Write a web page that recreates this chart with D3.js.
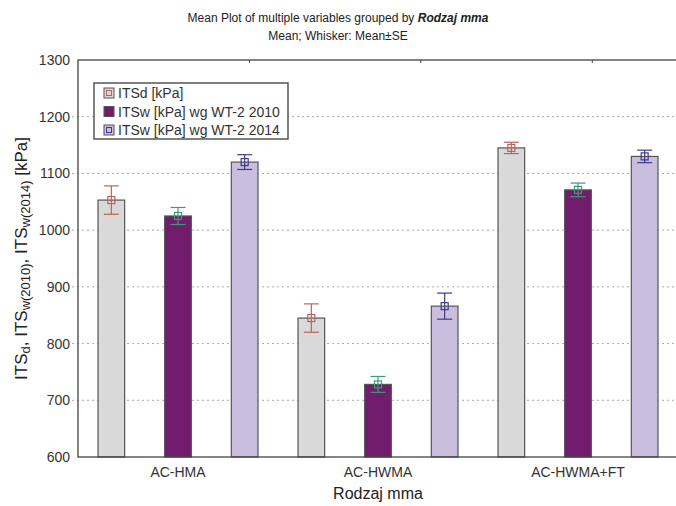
<!DOCTYPE html>
<html>
<head>
<meta charset="utf-8">
<script src="https://cdn.jsdelivr.net/npm/d3@7"></script>
<style>
  body { margin: 0; background: #fff; }
  svg { font-family: "Liberation Sans", Arial, sans-serif; }
</style>
</head>
<body>
<div id="chart"></div>
<script>
// values
const categories = ['AC-HMA', 'AC-HWMA', 'AC-HWMA+FT'];
const seriesNames = ['ITSd [kPa]', 'ITSw [kPa] wg WT-2 2010', 'ITSw [kPa] wg WT-2 2014'];
const itsd = [1053, 845, 1145];
const itsd_se = [25, 25, 10];
const itsw2010 = [1025, 728, 1071];
const itsw2010_se = [15, 14, 12];
const itsw2014 = [1120, 866, 1130];
const itsw2014_se = [13, 23, 11];
const yTicks = [600, 700, 800, 900, 1000, 1100, 1200, 1300];

const fills = ['#d9d9d9', '#721c6e', '#c9bedd'];
const whiskers = ['#c0605a', '#3f9a7a', '#3c3c8a'];

const W = 676, H = 506;
const margin = { top: 60, right: -2, bottom: 49, left: 78 };

const svg = d3.select('#chart').append('svg')
  .attr('width', W).attr('height', H);

const x0 = d3.scaleBand()
  .domain(categories)
  .range([margin.left, W - margin.right]);

const x1 = d3.scaleBand()
  .domain(d3.range(seriesNames.length))
  .range([0, x0.bandwidth()])
  .paddingInner(0.6)
  .paddingOuter(0.3);

const y = d3.scaleLinear()
  .domain([600, 1300])
  .range([H - margin.bottom, margin.top]);

const means = [itsd, itsw2010, itsw2014];
const ses = [itsd_se, itsw2010_se, itsw2014_se];

const data = [];
categories.forEach((c, i) => {
  seriesNames.forEach((s, j) => {
    data.push({ cat: c, s: j, mean: means[j][i], se: ses[j][i] });
  });
});

// grid
svg.append('g')
  .selectAll('line')
  .data(yTicks.filter(t => t > 600 && t < 1300))
  .enter().append('line')
  .attr('x1', margin.left - 6)
  .attr('x2', W - margin.right)
  .attr('y1', d => y(d)).attr('y2', d => y(d))
  .style('stroke', '#a8a8a8')
  .style('stroke-width', 1)
  .style('stroke-dasharray', '2,3');

// y axis
const yAxis = svg.append('g')
  .attr('transform', `translate(${margin.left},0)`)
  .call(d3.axisLeft(y).tickValues(yTicks).tickFormat(d3.format('d')).tickSize(0).tickPadding(8));
yAxis.select('.domain').remove();
yAxis.selectAll('text')
  .style('font-size', '14px')
  .style('fill', '#333');

// bars
svg.append('g')
  .selectAll('rect')
  .data(data)
  .enter().append('rect')
  .attr('x', d => x0(d.cat) + x1(d.s))
  .attr('width', x1.bandwidth())
  .attr('y', d => y(d.mean))
  .attr('height', d => y(600) - y(d.mean))
  .style('fill', d => fills[d.s])
  .style('stroke', '#555')
  .style('stroke-width', 1.2);

// whiskers
const wg = svg.append('g');
const cap = 7.5;
data.forEach(d => {
  const cx = x0(d.cat) + x1(d.s) + x1.bandwidth() / 2;
  const col = whiskers[d.s];
  const g = wg.append('g').style('stroke', col).style('stroke-width', 1.2).style('fill', 'none');
  g.append('line').attr('x1', cx).attr('x2', cx)
    .attr('y1', y(d.mean + d.se)).attr('y2', y(d.mean - d.se));
  g.append('line').attr('x1', cx - cap).attr('x2', cx + cap)
    .attr('y1', y(d.mean + d.se)).attr('y2', y(d.mean + d.se));
  g.append('line').attr('x1', cx - cap).attr('x2', cx + cap)
    .attr('y1', y(d.mean - d.se)).attr('y2', y(d.mean - d.se));
  g.append('rect').attr('x', cx - 3.5).attr('y', y(d.mean) - 3.5)
    .attr('width', 7).attr('height', 7);
});

// frame
svg.append('rect')
  .attr('x', margin.left).attr('y', margin.top)
  .attr('width', W - margin.right - margin.left)
  .attr('height', y(600) - margin.top)
  .style('fill', 'none')
  .style('stroke', '#444')
  .style('stroke-width', 1.3);

// small top ticks
const xt = d3.scaleLinear().domain([0, 3.5]).range([margin.left, W - margin.right]);
svg.append('g').selectAll('line')
  .data([1, 2, 3]).enter().append('line')
  .attr('x1', d => xt(d)).attr('x2', d => xt(d))
  .attr('y1', margin.top).attr('y2', margin.top + 3)
  .style('stroke', '#444');

// x axis labels
svg.append('g').selectAll('text')
  .data(categories).enter().append('text')
  .attr('x', d => x0(d) + x0.bandwidth() / 2)
  .attr('y', y(600) + 20)
  .attr('text-anchor', 'middle')
  .style('font-size', '14px')
  .style('fill', '#333')
  .text(d => d);

svg.append('text')
  .attr('x', x0.range()[0] + 300)
  .attr('y', 499)
  .attr('text-anchor', 'middle')
  .style('font-size', '16px')
  .style('fill', '#222')
  .text('Rodzaj mma');

// y axis title with subscripts
const yt = svg.append('text')
  .attr('transform', `translate(27,${(margin.top + y(600)) / 2}) rotate(-90)`)
  .attr('text-anchor', 'middle')
  .style('font-size', '17px')
  .style('fill', '#222');
yt.append('tspan').text('ITS');
yt.append('tspan').attr('baseline-shift', '-25%').style('font-size', '13px').text('d');
yt.append('tspan').text(', ITS');
yt.append('tspan').attr('baseline-shift', '-25%').style('font-size', '13px').text('w(2010)');
yt.append('tspan').text(', ITS');
yt.append('tspan').attr('baseline-shift', '-25%').style('font-size', '13px').text('w(2014)');
yt.append('tspan').text(' [kPa]');

// titles
const t1 = svg.append('text')
  .attr('x', 338).attr('y', 22)
  .attr('text-anchor', 'middle')
  .style('font-size', '12px')
  .style('fill', '#222');
t1.append('tspan').text('Mean Plot of multiple variables grouped by ');
t1.append('tspan').style('font-weight', 'bold').style('font-style', 'italic').text('Rodzaj mma');

svg.append('text')
  .attr('x', 338).attr('y', 40)
  .attr('text-anchor', 'middle')
  .style('font-size', '12px')
  .style('fill', '#222')
  .text('Mean; Whisker: Mean±SE');

// legend
const lg = svg.append('g').attr('transform', 'translate(94,83)');
lg.append('rect')
  .attr('width', 194).attr('height', 56)
  .style('fill', '#fff')
  .style('stroke', '#555')
  .style('stroke-width', 1.5);
seriesNames.forEach((s, j) => {
  const row = lg.append('g').attr('transform', `translate(10,${10 + j * 18.5})`);
  row.append('rect')
    .attr('x', 0).attr('y', -5).attr('width', 10).attr('height', 10)
    .style('fill', fills[j]).style('stroke', '#555');
  if (j !== 1) {
    row.append('rect')
      .attr('x', 2.5).attr('y', -2.5).attr('width', 5).attr('height', 5)
      .style('fill', 'none').style('stroke', whiskers[j]);
  }
  row.append('text')
    .attr('x', 14).attr('y', 5)
    .style('font-size', '14px')
    .style('fill', '#333')
    .text(s);
});
</script>
</body>
</html>
